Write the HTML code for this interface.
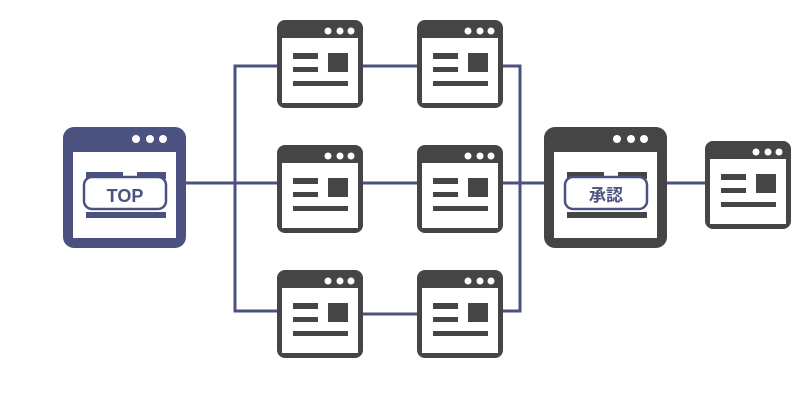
<!DOCTYPE html>
<html><head><meta charset="utf-8"><style>
html,body{margin:0;padding:0;background:#fff;width:800px;height:400px;overflow:hidden}
</style></head><body>
<svg width="800" height="400" viewBox="0 0 800 400" xmlns="http://www.w3.org/2000/svg">
<defs>
<g id="w">
<rect x="0" y="0" width="86" height="88" rx="8" fill="#454545"/>
<rect x="5" y="18" width="76" height="65" fill="#fff"/>
<circle cx="51" cy="11" r="3.5" fill="#fff"/><circle cx="63" cy="11" r="3.5" fill="#fff"/><circle cx="74" cy="11" r="3.5" fill="#fff"/>
<rect x="16" y="33" width="25" height="6" fill="#454545"/>
<rect x="16" y="47" width="25" height="5" fill="#454545"/>
<rect x="51" y="33" width="20" height="19" fill="#454545"/>
<rect x="16" y="61" width="55" height="5" fill="#454545"/>
</g>
</defs>
<g stroke="#4b5280" stroke-width="3" fill="none">
<line x1="186" y1="183" x2="545" y2="183"/>
<polyline points="277,66 235,66 235,311 277,311"/>
<line x1="363" y1="66" x2="417" y2="66"/>
<line x1="363" y1="314" x2="417" y2="314"/>
<polyline points="503,66 520,66 520,311 503,311"/>
<line x1="667" y1="183" x2="705" y2="183"/>
</g>
<use href="#w" x="277" y="20"/>
<use href="#w" x="417" y="20"/>
<use href="#w" x="277" y="145"/>
<use href="#w" x="417" y="145"/>
<use href="#w" x="277" y="270"/>
<use href="#w" x="417" y="270"/>
<use href="#w" x="705" y="141"/>
<!-- TOP window -->
<rect x="63" y="127" width="123" height="121" rx="11" fill="#4b5280"/>
<rect x="73" y="152" width="103" height="86" fill="#fff"/>
<circle cx="136" cy="139" r="4" fill="#fff"/><circle cx="150" cy="139" r="4" fill="#fff"/><circle cx="163" cy="139" r="4" fill="#fff"/>
<rect x="86" y="172" width="37" height="7" fill="#4b5280"/>
<rect x="137" y="172" width="29" height="7" fill="#4b5280"/>
<rect x="84" y="177" width="82" height="32" rx="8" fill="#fff" stroke="#4b5280" stroke-width="2.5"/>
<rect x="86" y="212" width="80" height="6" fill="#4b5280"/>
<text x="125" y="202" text-anchor="middle" font-family="Liberation Sans, sans-serif" font-weight="bold" font-size="18" fill="#4b5280">TOP</text>
<!-- Approve window -->
<rect x="544" y="127" width="123" height="121" rx="11" fill="#454545"/>
<rect x="554" y="152" width="103" height="86" fill="#fff"/>
<circle cx="617" cy="139" r="4" fill="#fff"/><circle cx="631" cy="139" r="4" fill="#fff"/><circle cx="644" cy="139" r="4" fill="#fff"/>
<rect x="567" y="172" width="37" height="7" fill="#454545"/>
<rect x="618" y="172" width="29" height="7" fill="#454545"/>
<rect x="565" y="177" width="82" height="32" rx="8" fill="#fff" stroke="#4b5280" stroke-width="2.5"/>
<rect x="567" y="212" width="80" height="6" fill="#454545"/>
<text x="606" y="201" text-anchor="middle" font-family="Liberation Sans, Noto Sans CJK JP, sans-serif" font-weight="bold" font-size="17" fill="#4b5280">承認</text>
</svg>
</body></html>
